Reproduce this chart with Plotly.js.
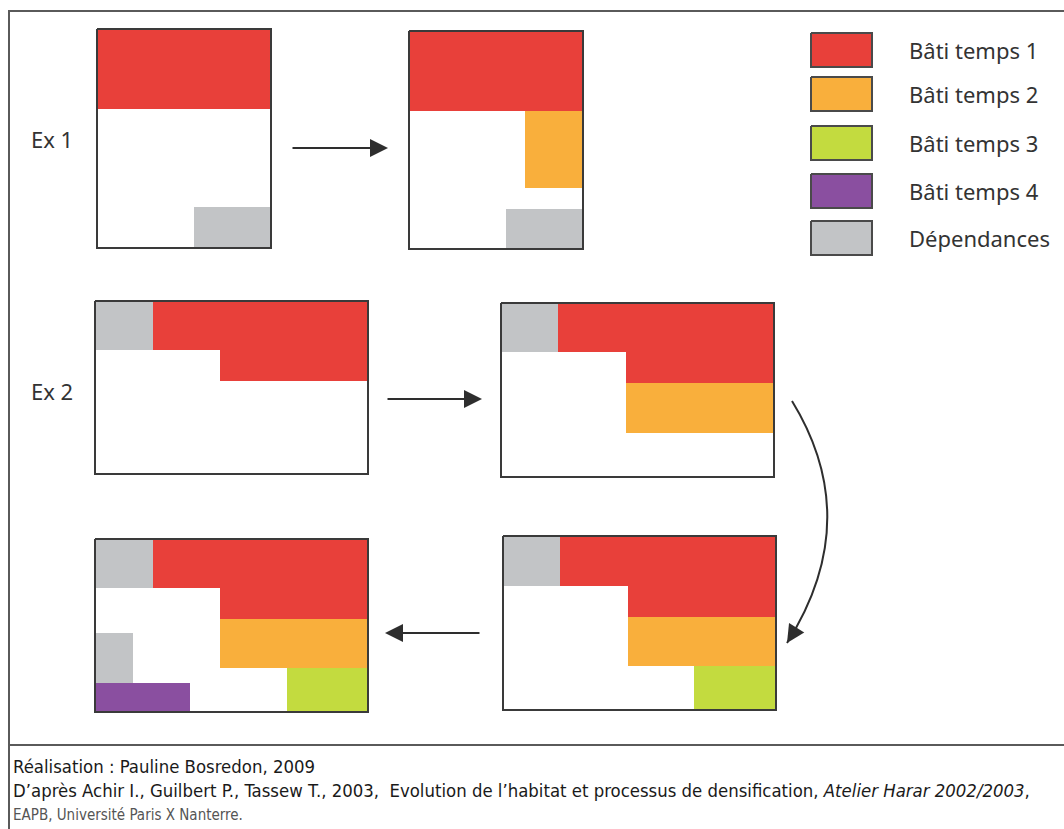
<!DOCTYPE html>
<html>
<head>
<meta charset="utf-8">
<script src="https://cdn.plot.ly/plotly-3.0.1.min.js"></script>
<style>html,body{margin:0;padding:0;background:#fff;}#chart{width:1064px;height:829px;}</style>
</head>
<body>
<div id="chart"></div>
<script>
// ---- categories (legend) ----
const categories = ['Bâti temps 1', 'Bâti temps 2', 'Bâti temps 3', 'Bâti temps 4', 'Dépendances'];
const catColors = ['#E8403A', '#F9AF3C', '#C3DB3F', '#8A4FA0', '#C2C4C6'];

// ---- diagram geometry (diagram units, origin top-left) ----
// panel frames: [x0, y0, x1, y1]
const panelFrames = [
  [97, 29, 271, 248],    // Ex1 step 1
  [409, 31, 583, 249],   // Ex1 step 2
  [95, 301, 368, 474],   // Ex2 step 1
  [501, 303, 774, 477],  // Ex2 step 2
  [503, 536, 776, 710],  // Ex2 step 3
  [95, 539, 368, 712]    // Ex2 step 4
];
// blocks per panel: category index, polygon xs, polygon ys
const ex1Step1 = [
  {cat: 0, xs: [97, 271, 271, 97], ys: [29, 29, 109, 109]},
  {cat: 4, xs: [194, 271, 271, 194], ys: [207, 207, 248, 248]}
];
const ex1Step2 = [
  {cat: 0, xs: [409, 583, 583, 409], ys: [31, 31, 111, 111]},
  {cat: 1, xs: [525, 583, 583, 525], ys: [111, 111, 188, 188]},
  {cat: 4, xs: [506, 583, 583, 506], ys: [209, 209, 249, 249]}
];
const ex2Step1 = [
  {cat: 4, xs: [95, 153, 153, 95], ys: [301, 301, 350, 350]},
  {cat: 0, xs: [153, 368, 368, 220, 220, 153], ys: [301, 301, 381, 381, 350, 350]}
];
const ex2Step2 = [
  {cat: 4, xs: [501, 558, 558, 501], ys: [303, 303, 352, 352]},
  {cat: 0, xs: [558, 774, 774, 626, 626, 558], ys: [303, 303, 383, 383, 352, 352]},
  {cat: 1, xs: [626, 774, 774, 626], ys: [383, 383, 433, 433]}
];
const ex2Step3 = [
  {cat: 4, xs: [503, 560, 560, 503], ys: [536, 536, 586, 586]},
  {cat: 0, xs: [560, 776, 776, 628, 628, 560], ys: [536, 536, 617, 617, 586, 586]},
  {cat: 1, xs: [628, 776, 776, 628], ys: [617, 617, 666, 666]},
  {cat: 2, xs: [694, 776, 776, 694], ys: [666, 666, 710, 710]}
];
const ex2Step4 = [
  {cat: 4, xs: [95, 153, 153, 95], ys: [539, 539, 588, 588]},
  {cat: 0, xs: [153, 368, 368, 220, 220, 153], ys: [539, 539, 619, 619, 588, 588]},
  {cat: 1, xs: [220, 368, 368, 220], ys: [619, 619, 668, 668]},
  {cat: 2, xs: [287, 368, 368, 287], ys: [668, 668, 712, 712]},
  {cat: 4, xs: [95, 133, 133, 95], ys: [633, 633, 683, 683]},
  {cat: 3, xs: [95, 190, 190, 95], ys: [683, 683, 712, 712]}
];
const panelBlocks = [ex1Step1, ex1Step2, ex2Step1, ex2Step2, ex2Step3, ex2Step4];

// straight arrows: [tailX, tailY, tipX, tipY]
const straightArrows = [
  [291, 148, 388, 148],
  [386, 399, 482, 399],
  [481, 633, 385, 633]
];
// curved arrow: start, control, tip
const curveStart = [792, 401];
const curveControl = [865, 520];
const curveTip = [787, 643];

// legend swatches: y ranges, x range
const legendX = [811, 872];
const legendY0 = [33, 77, 126, 174, 221];
const legendY1 = [67, 111, 160, 208, 255];
const legendTextX = 907;

// example labels
const exLabels = ['Ex 1', 'Ex 2'];
const exLabelY = [139, 391];
const exLabelX = 29;

// footer
const footerLines = [
  'Réalisation : Pauline Bosredon, 2009',
  'D’après Achir I., Guilbert P., Tassew T., 2003,  Evolution de l’habitat et processus de densification, <i>Atelier Harar 2002/2003</i>,',
  'EAPB, Université Paris X Nanterre.'
];
const footerY = [766, 790, 815];

// outer frame
const frameLeft = 9, frameTop = 11, frameSep = 745, frameRight = 1064, frameBottom = 829;

// ---- build ----
const traces = [];
panelBlocks.forEach(blocks => {
  blocks.forEach(b => {
    traces.push({
      type: 'scatter', mode: 'lines',
      x: b.xs.concat([b.xs[0]]), y: b.ys.concat([b.ys[0]]),
      fill: 'toself', fillcolor: catColors[b.cat],
      line: {width: 0, color: catColors[b.cat]},
      hoverinfo: 'skip', showlegend: false
    });
  });
});
panelFrames.forEach(f => {
  traces.push({
    type: 'scatter', mode: 'lines',
    x: [f[0], f[2], f[2], f[0], f[0]], y: [f[1], f[1], f[3], f[3], f[1]],
    line: {width: 2, color: '#3a3a3a'},
    hoverinfo: 'skip', showlegend: false
  });
});
categories.forEach((c, i) => {
  traces.push({
    type: 'scatter', mode: 'lines',
    x: [legendX[0], legendX[1], legendX[1], legendX[0], legendX[0]],
    y: [legendY0[i], legendY0[i], legendY1[i], legendY1[i], legendY0[i]],
    fill: 'toself', fillcolor: catColors[i],
    line: {width: 2, color: '#4a4a4a'},
    hoverinfo: 'skip', showlegend: false, name: c
  });
});
// outer frame lines
traces.push({
  type: 'scatter', mode: 'lines',
  x: [frameLeft, frameLeft, frameRight], y: [frameBottom, frameTop, frameTop],
  line: {width: 2, color: '#5a5a5a'}, hoverinfo: 'skip', showlegend: false
});
traces.push({
  type: 'scatter', mode: 'lines',
  x: [frameLeft, frameRight], y: [frameSep, frameSep],
  line: {width: 2, color: '#5a5a5a'}, hoverinfo: 'skip', showlegend: false
});

const annotations = [];
const shapes = [];
const arrowColor = '#2e2e2e';
straightArrows.forEach(a => {
  annotations.push({
    x: a[2], y: a[3], ax: a[0], ay: a[1], xref: 'x', yref: 'y', axref: 'x', ayref: 'y',
    text: '', showarrow: true, arrowhead: 2, arrowsize: 1.8, arrowwidth: 2, arrowcolor: arrowColor
  });
});
// curved arrow body
shapes.push({
  type: 'path', xref: 'x', yref: 'y',
  path: 'M ' + curveStart[0] + ',' + curveStart[1] + ' Q ' + curveControl[0] + ',' + curveControl[1] + ' ' + curveTip[0] + ',' + curveTip[1],
  line: {color: arrowColor, width: 2}
});
// curved arrow head (along end tangent)
(function () {
  const dx = curveTip[0] - curveControl[0], dy = curveTip[1] - curveControl[1];
  const len = Math.sqrt(dx * dx + dy * dy);
  annotations.push({
    x: curveTip[0], y: curveTip[1],
    ax: curveTip[0] - 10 * dx / len, ay: curveTip[1] - 10 * dy / len,
    xref: 'x', yref: 'y', axref: 'x', ayref: 'y',
    text: '', showarrow: true, arrowhead: 2, arrowsize: 1.8, arrowwidth: 2, arrowcolor: arrowColor
  });
})();

categories.forEach((c, i) => {
  annotations.push({
    x: legendTextX, y: (legendY0[i] + legendY1[i]) / 2, xref: 'x', yref: 'y',
    text: c, showarrow: false, xanchor: 'left', yanchor: 'middle',
    font: {family: 'Noto Sans, Open Sans, sans-serif', size: 22, color: '#333333'}
  });
});
exLabels.forEach((t, i) => {
  annotations.push({
    x: exLabelX, y: exLabelY[i], xref: 'x', yref: 'y',
    text: t, showarrow: false, xanchor: 'left', yanchor: 'middle',
    font: {family: 'Noto Sans, Open Sans, sans-serif', size: 22, color: '#333333'}
  });
});
footerLines.forEach((t, i) => {
  annotations.push({
    x: 11, y: footerY[i], xref: 'x', yref: 'y',
    text: t, showarrow: false, xanchor: 'left', yanchor: 'middle',
    font: {family: 'Liberation Sans Narrow, DejaVu Sans Condensed, sans-serif', size: i === 2 ? 15 : 18.4, color: i === 2 ? '#555555' : '#1a1a1a'}
  });
});

const layout = {
  width: 1064, height: 829,
  margin: {l: 0, r: 0, t: 0, b: 0, pad: 0},
  paper_bgcolor: '#ffffff', plot_bgcolor: '#ffffff',
  xaxis: {range: [0, 1064], visible: false, fixedrange: true},
  yaxis: {range: [829, 0], visible: false, fixedrange: true},
  showlegend: false,
  annotations: annotations,
  shapes: shapes
};
Plotly.newPlot('chart', traces, layout, {displayModeBar: false, staticPlot: true});
</script>
</body>
</html>
